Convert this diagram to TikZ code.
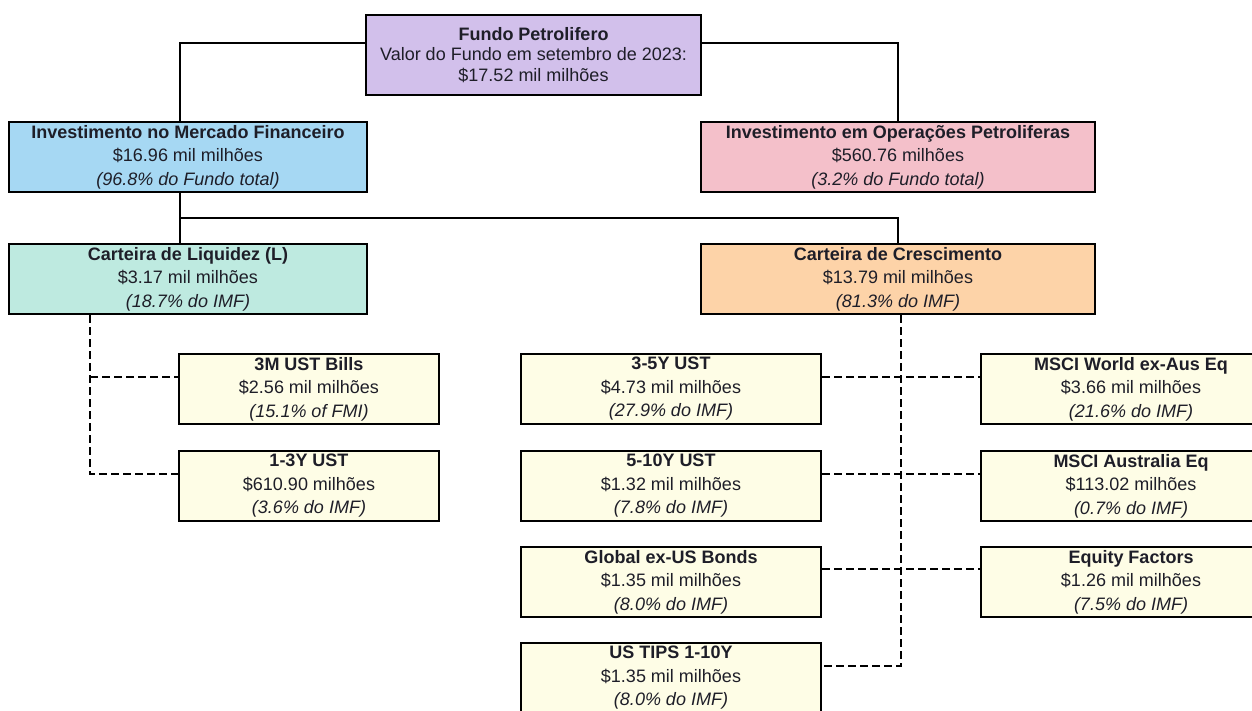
\documentclass[tikz,border=0pt]{standalone}
\usepackage{fontspec}
\setmainfont{Liberation Sans}
\definecolor{cTop}{RGB}{210,192,235}
\definecolor{cFin}{RGB}{166,216,243}
\definecolor{cOil}{RGB}{244,192,202}
\definecolor{cLiq}{RGB}{190,234,224}
\definecolor{cCre}{RGB}{253,211,168}
\definecolor{cSub}{RGB}{254,253,230}
\definecolor{cTxt}{RGB}{30,30,40}
\begin{document}
\begin{tikzpicture}[x=1pt,y=-1pt,
  box/.style={draw=black, line width=2.2pt, inner sep=0pt, align=center,
    text=cTxt, font=\fontsize{18}{23.5}\selectfont, minimum height=70pt},
  conn/.style={line width=2.2pt, black},
  dl/.style={line width=2.2pt, black, dash pattern=on 8pt off 4pt}]
\useasboundingbox (0,0) rectangle (1252,711);
% boxes
\node[box, fill=cTop, minimum width=335pt, minimum height=80pt,
  font=\fontsize{18}{20.5}\selectfont] (top) at (533.5,55)
  {\textbf{Fundo Petrolifero}\\Valor do Fundo em setembro de 2023:\\\$17.52 mil milhões};
\node[box, fill=cFin, minimum width=358pt] (fin) at (188,157)
  {\textbf{Investimento no Mercado Financeiro}\\\$16.96 mil milhões\\\textit{(96.8\% do Fundo total)}};
\node[box, fill=cOil, minimum width=394pt] (oil) at (898,157)
  {\textbf{Investimento em Operações Petroliferas}\\\$560.76 milhões\\\textit{(3.2\% do Fundo total)}};
\node[box, fill=cLiq, minimum width=358pt] (liq) at (188,279)
  {\textbf{Carteira de Liquidez (L)}\\\$3.17 mil milhões\\\textit{(18.7\% do IMF)}};
\node[box, fill=cCre, minimum width=394pt] (cre) at (898,279)
  {\textbf{Carteira de Crescimento}\\\$13.79 mil milhões\\\textit{(81.3\% do IMF)}};
\node[box, fill=cSub, minimum width=260pt] (bills) at (309,389)
  {\textbf{3M UST Bills}\\\$2.56 mil milhões\\\textit{(15.1\% of FMI)}};
\node[box, fill=cSub, minimum width=260pt] (y13) at (309,486)
  {\textbf{1-3Y UST}\\\$610.90 milhões\\\textit{(3.6\% do IMF)}};
\node[box, fill=cSub, minimum width=300pt] (y35) at (671,389)
  {\textbf{3-5Y UST}\\\$4.73 mil milhões\\\textit{(27.9\% do IMF)}};
\node[box, fill=cSub, minimum width=300pt] (y510) at (671,486)
  {\textbf{5-10Y UST}\\\$1.32 mil milhões\\\textit{(7.8\% do IMF)}};
\node[box, fill=cSub, minimum width=300pt] (glob) at (671,582)
  {\textbf{Global ex-US Bonds}\\\$1.35 mil milhões\\\textit{(8.0\% do IMF)}};
\node[box, fill=cSub, minimum width=300pt] (tips) at (671,678)
  {\textbf{US TIPS 1-10Y}\\\$1.35 mil milhões\\\textit{(8.0\% do IMF)}};
\node[box, fill=cSub, minimum width=300pt] (msciw) at (1131,389)
  {\textbf{MSCI World ex-Aus Eq}\\\$3.66 mil milhões\\\textit{(21.6\% do IMF)}};
\node[box, fill=cSub, minimum width=300pt] (mscia) at (1131,486)
  {\textbf{MSCI Australia Eq}\\\$113.02 milhões\\\textit{(0.7\% do IMF)}};
\node[box, fill=cSub, minimum width=300pt] (eqf) at (1131,582)
  {\textbf{Equity Factors}\\\$1.26 mil milhões\\\textit{(7.5\% do IMF)}};
% solid connectors
\draw[conn] ([yshift=12pt]top.west) -| ([xshift=-8pt]fin.north);
\draw[conn] ([yshift=12pt]top.east) -| (oil.north);
\draw[conn] ([xshift=-8pt]fin.south) -- ([xshift=-8pt]liq.north);
\coordinate (j1) at (180,218);
\draw[conn] (j1) -| (cre.north);
% dashed connectors
\coordinate (lq) at ([xshift=-98pt]liq.south);
\coordinate (bw) at ([yshift=12pt]bills.west);
\draw[dl] (lq) |- ([yshift=12pt]y13.west);
\draw[dl] (lq |- bw) -- (bw);
\coordinate (cq) at ([xshift=3pt]cre.south);
\draw[dl] (cq) |- ([yshift=12pt]tips.east);
\draw[dl] ([yshift=12pt]y35.east) -- ([yshift=12pt]msciw.west);
\draw[dl] ([yshift=12pt]y510.east) -- ([yshift=12pt]mscia.west);
\draw[dl] ([yshift=13pt]glob.east) -- ([yshift=13pt]eqf.west);
\end{tikzpicture}
\end{document}
